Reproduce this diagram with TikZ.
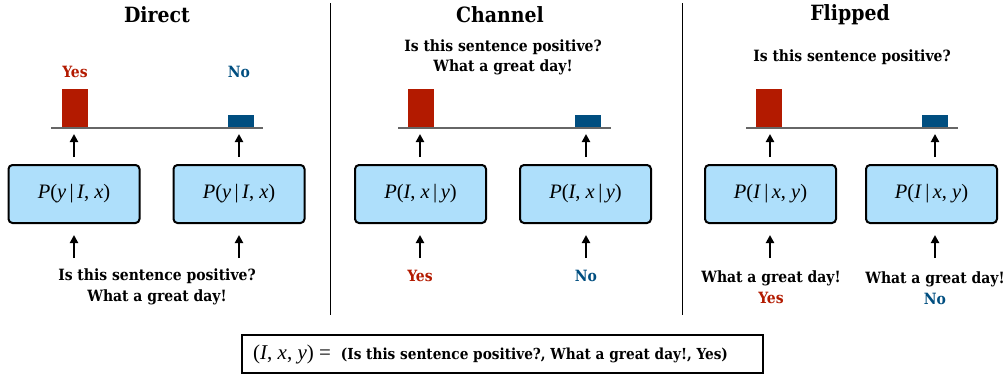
\documentclass[tikz,border=0pt]{standalone}
\usepackage{fontspec}
\setmainfont{Liberation Serif}
\newfontfamily\lblfont{DejaVu Serif Condensed}
\usetikzlibrary{arrows.meta}
\definecolor{myred}{HTML}{B31A00}
\definecolor{myblue}{HTML}{004E80}
\definecolor{boxfill}{HTML}{AEDFFB}
\newcommand{\mv}[1]{\textit{#1}}
\newcommand{\cbar}{\,|\,}
\begin{document}
\begin{tikzpicture}[x=1pt,y=-1pt,
 model/.style={draw=black, line width=2pt, rounded corners=4pt, fill=boxfill, minimum width=131pt, minimum height=58pt, inner sep=0pt, font=\fontsize{20.5}{24}\selectfont},
 lbl/.style={font=\lblfont\bfseries\fontsize{15.5}{20.5}\selectfont, align=center},
 ttl/.style={font=\lblfont\bfseries\fontsize{21}{26}\selectfont},
 up/.style={-{Triangle[width=8pt,length=8pt]}, line width=2pt},
 base/.style={draw=black!60, line width=1.5pt},
 redbar/.style={fill=myred, minimum width=26pt, minimum height=39pt, inner sep=0pt, anchor=south},
 bluebar/.style={fill=myblue, minimum width=26pt, minimum height=13pt, inner sep=0pt, anchor=south},
 divider/.style={line width=1pt},
]
\useasboundingbox (0,0) rectangle (1008,375);

% titles
\node[ttl] (t1) at (157,15) {Direct};
\node[ttl] (t2) at (500,15) {Channel};
\node[ttl] (t3) at (850,15) {Flipped};

% dividers
\draw[divider] (330,3) -- (330,315);
\draw[divider] (682,3) -- (682,315);

% ---------- Direct ----------
\node[redbar] (r1) at (75,128) {};
\node[bluebar] (u1) at (241,128) {};
\draw[base] (51,128) -- (263,128);
\node[lbl, text=myred] (ly1) at (75,72) {Yes};
\node[lbl, text=myblue] (ln1) at (239,72) {No};
\node[model] (b1) at (74,194) {\mv{P}(\mv{y}\cbar\mv{I}, \mv{x})};
\node[model] (b2) at (239,194) {\mv{P}(\mv{y}\cbar\mv{I}, \mv{x})};
\coordinate (s1) at (74,258);
\coordinate (s2) at (239,258);
\draw[up, shorten <=7pt] (s1 |- b1.north) -- ([yshift=-6pt]s1 |- r1.south);
\draw[up, shorten <=7pt] (s2 |- b2.north) -- ([yshift=-6pt]s2 |- u1.south);
\draw[up, shorten >=11pt] (s1) -- (b1.south);
\draw[up, shorten >=11pt] (s2) -- (b2.south);
\node[lbl] (in1) at (157,287) {Is this sentence positive?\\What a great day!};

% ---------- Channel ----------
\node[lbl] (in2) at (503,57.5) {Is this sentence positive?\\What a great day!};
\node[redbar] (r2) at (421,128) {};
\node[bluebar] (u2) at (588,128) {};
\draw[base] (398,128) -- (611,128);
\node[model] (b3) at (420.5,194) {\mv{P}(\mv{I}, \mv{x}\cbar\mv{y})};
\node[model] (b4) at (585.5,194) {\mv{P}(\mv{I}, \mv{x}\cbar\mv{y})};
\coordinate (s3) at (420,258);
\coordinate (s4) at (586,258);
\draw[up, shorten <=7pt] (s3 |- b3.north) -- ([yshift=-6pt]s3 |- r2.south);
\draw[up, shorten <=7pt] (s4 |- b4.north) -- ([yshift=-6pt]s4 |- u2.south);
\draw[up, shorten >=11pt] (s3) -- (s3 |- b3.south);
\draw[up, shorten >=11pt] (s4) -- (s4 |- b4.south);
\node[lbl, text=myred] (ly2) at (420,276) {Yes};
\node[lbl, text=myblue] (ln2) at (586,276) {No};

% ---------- Flipped ----------
\node[lbl] (in3) at (852,57) {Is this sentence positive?};
\node[redbar] (r3) at (769,128) {};
\node[bluebar] (u3) at (935,128) {};
\draw[base] (746,128) -- (958,128);
\node[model] (b5) at (770.5,194) {\mv{P}(\mv{I}\cbar\mv{x}, \mv{y})};
\node[model] (b6) at (931.5,194) {\mv{P}(\mv{I}\cbar\mv{x}, \mv{y})};
\coordinate (s5) at (770,258);
\coordinate (s6) at (935,258);
\draw[up, shorten <=7pt] (s5 |- b5.north) -- ([yshift=-6pt]s5 |- r3.south);
\draw[up, shorten <=7pt] (s6 |- b6.north) -- ([yshift=-6pt]s6 |- u3.south);
\draw[up, shorten >=11pt] (s5) -- (s5 |- b5.south);
\draw[up, shorten >=11pt] (s6) -- (s6 |- b6.south);
\node[lbl] (in5) at (771,287) {What a great day!\\\textcolor{myred}{Yes}};
\node[lbl] (in6) at (935,288) {What a great day!\\\textcolor{myblue}{No}};

% ---------- bottom equation ----------
\node[draw=black, line width=1.2pt, minimum width=521pt, minimum height=38pt, inner sep=0pt] (eq) at (502.5,354) {};
\node[anchor=west, inner sep=0pt] (eqt) at (253,354) {\fontsize{21}{24}\selectfont(\mv{I}, \mv{x}, \mv{y}) =\hspace{10pt}{\lblfont\bfseries\fontsize{15.2}{18}\selectfont(Is this sentence positive?, What a great day!, Yes)}};
\end{tikzpicture}
\end{document}
